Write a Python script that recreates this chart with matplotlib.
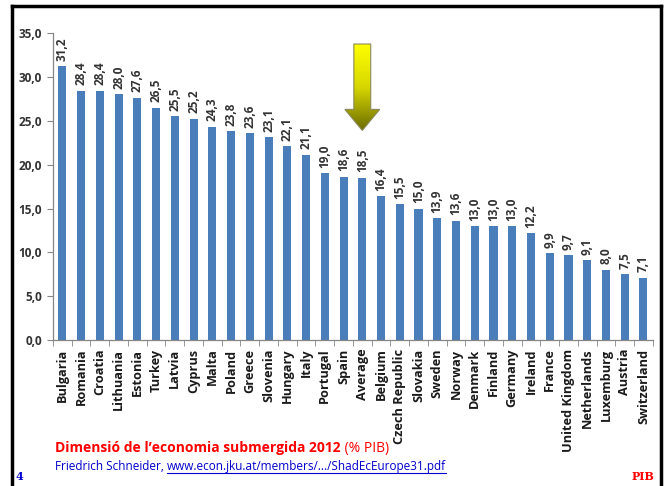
import matplotlib.pyplot as plt
import numpy as np
from matplotlib.patches import Polygon
from matplotlib.lines import Line2D
from matplotlib.colors import LinearSegmentedColormap

countries = ["Bulgaria", "Romania", "Croatia", "Lithuania", "Estonia", "Turkey",
             "Latvia", "Cyprus", "Malta", "Poland", "Greece", "Slovenia",
             "Hungary", "Italy", "Portugal", "Spain", "Average", "Belgium",
             "Czech Republic", "Slovakia", "Sweden", "Norway", "Denmark",
             "Finland", "Germany", "Ireland", "France", "United Kingdom",
             "Netherlands", "Luxemburg", "Austria", "Switzerland"]
values = [31.2, 28.4, 28.4, 28.0, 27.6, 26.5, 25.5, 25.2, 24.3, 23.8, 23.6,
          23.1, 22.1, 21.1, 19.0, 18.6, 18.5, 16.4, 15.5, 15.0, 13.9, 13.6,
          13.0, 13.0, 13.0, 12.2, 9.9, 9.7, 9.1, 8.0, 7.5, 7.1]
yticks = [0, 5, 10, 15, 20, 25, 30, 35]

plt.rcParams["font.family"] = ["Open Sans", "DejaVu Sans"]

fig = plt.figure(figsize=(6.65, 4.86), dpi=100)
ax = fig.add_axes([0.0797, 0.300, 0.902, 0.632])

x = np.arange(len(countries))
ax.bar(x, values, width=0.43, color="#4a7ebb", zorder=2)

for xi, v in zip(x, values):
    ax.annotate(f"{v:.1f}".replace(".", ","), (xi, v), xytext=(0, 4),
                textcoords="offset points", rotation=90, ha="center", va="bottom",
                fontsize=8.5, fontweight="bold", color="#333333")

ax.set_xlim(-0.5, len(countries) - 0.5)
ax.set_ylim(0, 35)
ax.set_yticks(yticks)
ax.set_yticklabels([f"{t:.1f}".replace(".", ",") for t in yticks],
                   fontsize=8.5, fontweight="bold", color="#333333")
ax.set_xticks(x)
ax.set_xticklabels(countries, rotation=90, fontsize=9.2, fontweight="bold", color="#1a1a1a")
ax.set_xticks(np.arange(len(countries) + 1) - 0.5, minor=True)
ax.tick_params(axis="x", which="major", length=0, pad=6)
ax.tick_params(axis="x", which="minor", length=4, color="#868686", direction="out")
ax.tick_params(axis="y", length=4, color="#868686", pad=4)
for s in ["top", "right"]:
    ax.spines[s].set_visible(False)
for s in ["left", "bottom"]:
    ax.spines[s].set_color("#868686")
    ax.spines[s].set_linewidth(0.9)

# yellow arrow over the average bar
cx = 16
shaft, head = 0.45, 0.93
top, neck, tip = 33.75, 26.3, 23.9
arrow_pts = [(cx - shaft, top), (cx + shaft, top), (cx + shaft, neck),
             (cx + head, neck), (cx, tip), (cx - head, neck), (cx - shaft, neck)]
arrow = Polygon(arrow_pts, closed=True, facecolor="none", edgecolor="#8a8a5a",
                linewidth=0.8, zorder=4)
ax.add_patch(arrow)
grad = np.linspace(0, 1, 100).reshape(-1, 1)
cmap = LinearSegmentedColormap.from_list("ylw", ["#ffff00", "#d8d800", "#6e6e00"])
im = ax.imshow(grad, extent=(cx - head, cx + head, tip, top), origin="upper",
               cmap=cmap, aspect="auto", zorder=3)
im.set_clip_path(arrow)

# slide frame
for xs, ys in [([0.018, 0.018], [0.0, 0.988]), ([0.018, 0.994], [0.988, 0.988]),
               ([0.994, 0.994], [0.988, 0.0])]:
    fig.add_artist(Line2D(xs, ys, color="black", linewidth=2.5, transform=fig.transFigure))

t = fig.text(0.083, 0.070, "Dimensió de l’economia submergida 2012", fontsize=10,
             fontweight="bold", color="#ff0000", va="baseline")
fig.canvas.draw()
bb = t.get_window_extent()
fig.text(bb.x1 / fig.bbox.width, 0.070, " (% PIB)", fontsize=10, color="#ff0000",
         va="baseline")
t2 = fig.text(0.083, 0.033, "Friedrich Schneider, ", fontsize=8.5, color="#0000cc",
              va="baseline")
bb2 = t2.get_window_extent()
link = fig.text(bb2.x1 / fig.bbox.width, 0.033,
                "www.econ.jku.at/members/.../ShadEcEurope31.pdf", fontsize=8.5,
                color="#0000cc", va="baseline")
fig.canvas.draw()
lb = link.get_window_extent()
fig.add_artist(Line2D([lb.x0 / fig.bbox.width, lb.x1 / fig.bbox.width],
                      [0.027, 0.027], color="#0000cc", linewidth=0.8,
                      transform=fig.transFigure))

fig.text(0.024, 0.012, "4", fontsize=8, fontweight="bold", color="#0000cc",
         family="DejaVu Serif", va="baseline")
fig.text(0.984, 0.012, "PIB", fontsize=8, fontweight="bold", color="#ff0000",
         family="DejaVu Serif", va="baseline", ha="right")

fig.savefig("out.png", dpi=100)
